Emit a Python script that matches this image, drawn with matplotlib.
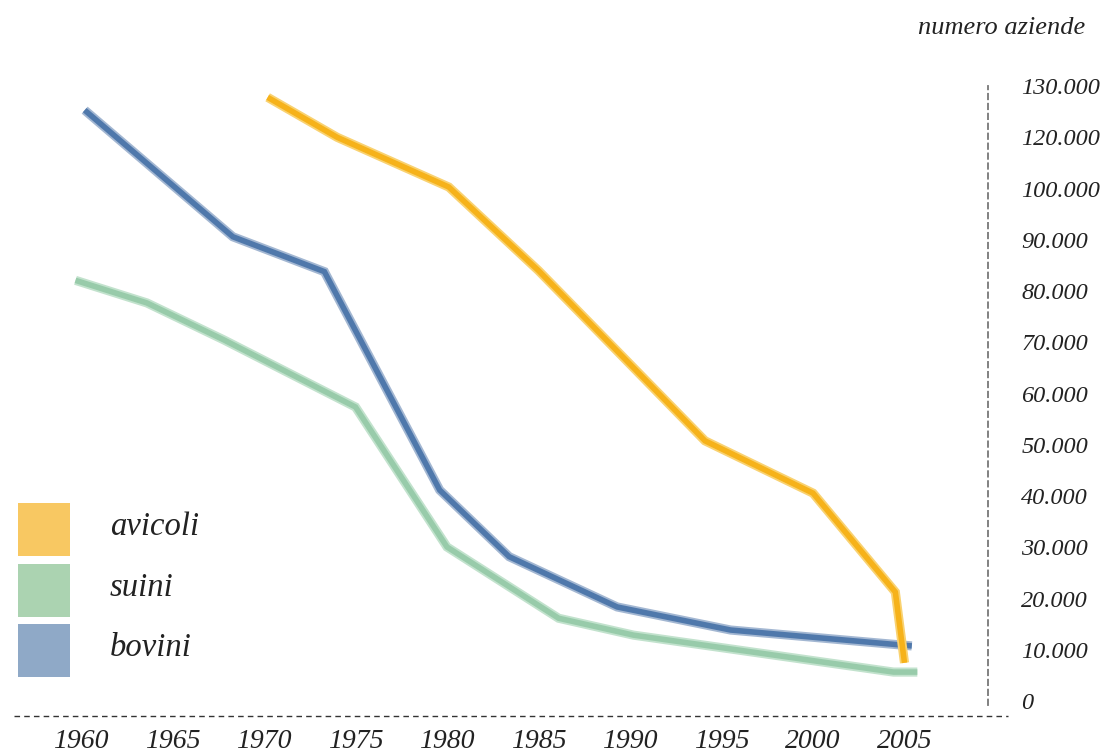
import numpy as np
import matplotlib.pyplot as plt
from matplotlib.patches import Rectangle

# numero aziende per specie allevata
bovini_anni = [1960.2, 1968.3, 1973.3, 1979.6, 1983.4, 1989.3, 1995.5, 2005.4]
bovini = [115300, 90600, 83800, 41200, 28200, 18400, 13900, 10800]

suini_anni = [1959.7, 1963.6, 1967.8, 1975.0, 1980.0, 1986.1, 1990.2, 2004.4, 2005.7]
suini = [82100, 77700, 70500, 57400, 30100, 16200, 12900, 5700, 5700]

avicoli_anni = [1970.2, 1974.0, 1980.1, 1985.0, 1994.1, 2000.0, 2004.5, 2005.0]
avicoli = [117800, 110000, 100300, 84000, 50800, 40600, 21300, 7500]

anni_ticks = [1960, 1965, 1970, 1975, 1980, 1985, 1990, 1995, 2000, 2005]
y_ticks = np.arange(0, 130000, 10000)
y_labels = ["0", "10.000", "20.000", "30.000", "40.000", "50.000", "60.000",
            "70.000", "80.000", "90.000", "100.000", "120.000", "130.000"]

legenda = ["avicoli", "suini", "bovini"]

# colori: linea piena + alone chiaro
c_avicoli, h_avicoli, l_avicoli = "#F6B21A", "#F9D271", "#F8C862"
c_suini, h_suini, l_suini = "#98CBAA", "#C2E2CD", "#ABD3B1"
c_bovini, h_bovini, l_bovini = "#4F78AB", "#A3B7D2", "#8FA9C7"

W, H = 1119, 754
fig = plt.figure(figsize=(W / 100, H / 100), dpi=100)
font = "Liberation Serif"

# axes in pixel coords: left 14, right 988, bottom 716, top 40
ax = fig.add_axes([14 / W, 1 - 716 / H, (988 - 14) / W, (716 - 40) / H])
ax.set_xlim(1956.339, 2009.563)
ax.set_ylim(-2867, 128980)

for anni, vals, col, halo in [(suini_anni, suini, c_suini, h_suini),
                              (bovini_anni, bovini, c_bovini, h_bovini),
                              (avicoli_anni, avicoli, c_avicoli, h_avicoli)]:
    ax.plot(anni, vals, color=halo, lw=6.6, solid_joinstyle="miter",
            solid_capstyle="butt")
    ax.plot(anni, vals, color=col, lw=4.0, solid_joinstyle="miter",
            solid_capstyle="butt")

# assi
for s in ["top", "left", "bottom"]:
    ax.spines[s].set_visible(False)
ax.spines["right"].set_linestyle((0, (3, 2.5)))
ax.spines["right"].set_color("#777777")
ax.spines["right"].set_linewidth(1.3)
ax.spines["right"].set_bounds(-800, 120000)

ax.axhline(-2867, xmin=0, xmax=(1008 - 14) / (988 - 14), color="#333333",
           lw=1.0, ls=(0, (4, 3)), clip_on=False)

ax.yaxis.tick_right()
ax.set_yticks(y_ticks)
ax.set_yticklabels(y_labels, fontfamily=font, fontstyle="italic",
                   fontsize=17.5, color="#222222")
ax.tick_params(axis="y", length=0, pad=24)

ax.set_xticks(anni_ticks)
ax.set_xticklabels([str(a) for a in anni_ticks], fontfamily=font,
                   fontstyle="italic", fontsize=20, color="#222222")
ax.tick_params(axis="x", length=0, pad=9)

fig.text(1085 / W, 1 - 28 / H, "numero aziende", ha="right", va="center",
         fontfamily=font, fontstyle="italic", fontsize=19, color="#222222")

# legenda
for i, (nome, col) in enumerate(zip(legenda, [l_avicoli, l_suini, l_bovini])):
    top = 503 + i * 60.5
    fig.add_artist(Rectangle((18 / W, 1 - (top + 53) / H), 52 / W, 53 / H,
                             transform=fig.transFigure, color=col, lw=0))
    fig.text(110 / W, 1 - (top + 24) / H, nome, ha="left", va="center",
             fontfamily=font, fontstyle="italic", fontsize=23.5, color="#222222")

fig.savefig("out.png", dpi=100)
